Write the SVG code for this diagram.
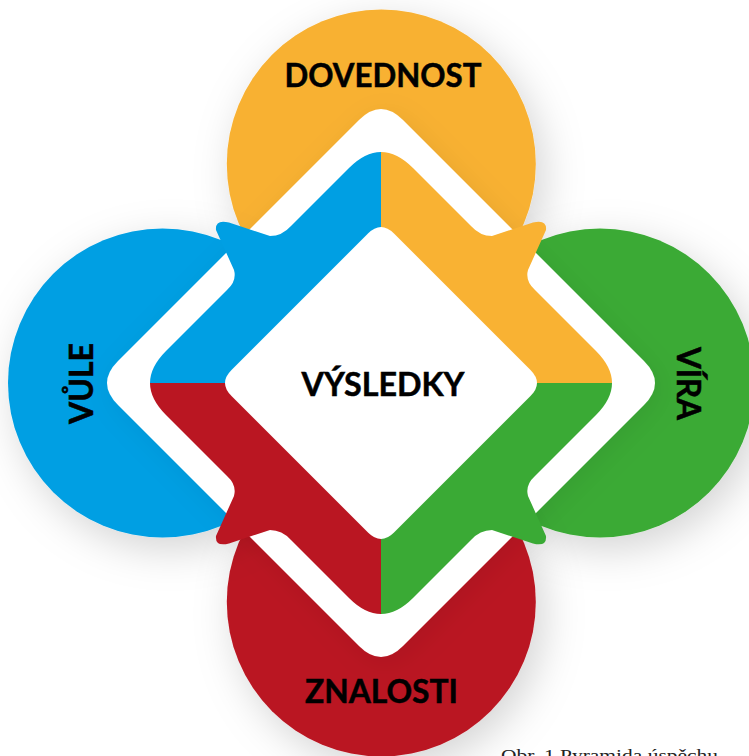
<svg xmlns="http://www.w3.org/2000/svg" xmlns:xlink="http://www.w3.org/1999/xlink" width="749" height="756" viewBox="0 0 749 756">
<defs>
<filter id="sh" x="-40%" y="-40%" width="190%" height="190%"><feDropShadow dx="8" dy="12" stdDeviation="20" flood-color="#000" flood-opacity="0.17"/></filter>
<filter id="sh2" x="-20%" y="-20%" width="140%" height="140%"><feDropShadow dx="5" dy="6" stdDeviation="14" flood-color="#000" flood-opacity="0.07"/></filter>
<path id="arrow" d="M381,152 Q397,152 413,168 L471,226 Q480,236 492,236 L533,222.500 Q547,219 546,230 L528,270 Q525,281 535,290 L596,351 Q612,367 612,383 L381,383 Z"/>
</defs>
<style>
text{font-family:"Lato","Noto Sans",sans-serif;font-weight:700;fill:#000;text-anchor:middle;stroke:#000;stroke-width:.5px}
.lbl{font-size:33px}
.cap{font-family:"Liberation Serif",serif;font-weight:400;font-size:17.500px;fill:#222;stroke:none;text-anchor:start}
</style>
<rect width="749" height="756" fill="#fff"/>
<g id="dovednost" filter="url(#sh)"><circle cx="381.300" cy="164" r="154.500" fill="#F8B133"/></g>
<g id="vira" filter="url(#sh)"><circle cx="600" cy="383" r="154.500" fill="#3AAA35"/></g>
<g id="znalosti" filter="url(#sh)"><circle cx="381.300" cy="602" r="154.500" fill="#BA1622"/></g>
<g id="vule" filter="url(#sh)"><circle cx="162.500" cy="383" r="154.500" fill="#009FE3"/></g>
<path id="ring" filter="url(#sh2)" fill="#fff" d="M359,120 Q381,98 403,120 L644,361 Q666,383 644,405 L403,646 Q381,668 359,646 L118,405 Q96,383 118,361 Z"/>
<g id="connectors">
<use xlink:href="#arrow" href="#arrow" fill="#F9B233"/>
<use xlink:href="#arrow" href="#arrow" fill="#3AAA35" transform="matrix(1 0 0 -1 0 766)"/>
<use xlink:href="#arrow" href="#arrow" fill="#BA1622" transform="matrix(-1 0 0 -1 762 766)"/>
<use xlink:href="#arrow" href="#arrow" fill="#009FE3" transform="matrix(-1 0 0 1 762 0)"/>
</g>
<g id="vysledky">
<path fill="#fff" d="M368,233.500 Q381,220.500 394,233.500 L530.500,370 Q543.500,383 530.500,396 L394,532.500 Q381,545.500 368,532.500 L231.500,396 Q218.500,383 231.500,370 Z"/>
<text class="lbl" x="383" y="396" textLength="163" lengthAdjust="spacingAndGlyphs">VÝSLEDKY</text>
</g>
<text class="lbl" x="383" y="87" textLength="197" lengthAdjust="spacingAndGlyphs">DOVEDNOST</text>
<text class="lbl" x="381.500" y="703" textLength="153" lengthAdjust="spacingAndGlyphs">ZNALOSTI</text>
<text class="lbl" transform="translate(677,383.500) rotate(90)" textLength="73" lengthAdjust="spacingAndGlyphs">VÍRA</text>
<text class="lbl" transform="translate(93,383.500) rotate(-90)" textLength="81" lengthAdjust="spacingAndGlyphs">VŮLE</text>
<text class="cap" x="501" y="761" textLength="217" lengthAdjust="spacingAndGlyphs">Obr. 1 Pyramida úspěchu</text>
</svg>
